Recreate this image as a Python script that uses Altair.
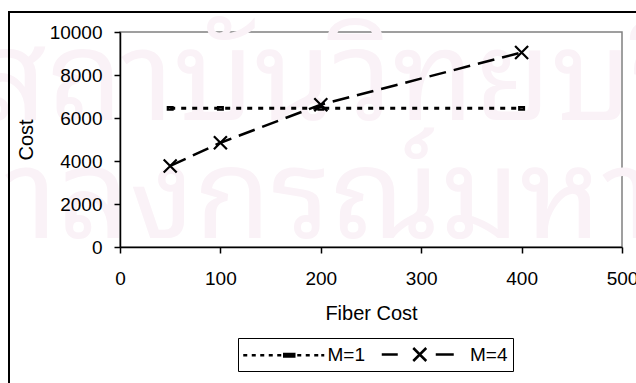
import altair as alt
import pandas as pd

# Series values
fiber_cost = [50, 100, 200, 400]
cost_m1 = [6450, 6450, 6450, 6450]
cost_m4 = [3770, 4850, 6620, 9050]
series = ["M=1", "M=4"]

# Axis ticks
x_ticks = [0, 100, 200, 300, 400, 500]
y_ticks = [0, 2000, 4000, 6000, 8000, 10000]

# Background watermark lines
watermark = ["สถาบันวิทยบริการ", "จุฬาลงกรณ์มหาวิทยาลัย"]

df = pd.DataFrame({
    "fiber": fiber_cost * 2,
    "cost": cost_m1 + cost_m4,
    "series": [series[0]] * len(fiber_cost) + [series[1]] * len(fiber_cost),
})

FONT = "Liberation Sans"
THAI_FONT = "Laksaman, Kinnari, Norasi, 'Noto Sans Thai Looped', 'Noto Serif Thai', 'Noto Sans Thai', sans-serif"

# Legend symbol geometry (pixel units converted to the symbol's unit box)
LEG_SIZE = 400
U = (LEG_SIZE ** 0.5) / 2


def hseg(a, b, y=0.0):
    return f"M{a / U:.3f},{y / U:.3f}H{b / U:.3f}"


def rect(a, b, h):
    return f"M{a / U:.3f},{-h / U:.3f}H{b / U:.3f}V{h / U:.3f}H{a / U:.3f}Z"


def cross(cx, r):
    return (f"M{(cx - r) / U:.3f},{-r / U:.3f}L{(cx + r) / U:.3f},{r / U:.3f}"
            f"M{(cx - r) / U:.3f},{r / U:.3f}L{(cx + r) / U:.3f},{-r / U:.3f}")


dots = [(-46, -42), (-37.5, -33.5), (-29, -25), (-20.5, -16.5), (-12, -8),
        (8, 12), (16.5, 20.5), (25, 29), (32, 35)]
leg_m1 = "".join(hseg(a, b) for a, b in dots) + rect(-5, 5, 1.2)
leg_m4 = hseg(-50, -34) + cross(-12, 6.5) + hseg(4, 22)

# Plot markers
mark_m1 = "M-0.6,-0.3H0.6V0.3H-0.6Z"
mark_m4 = "M-1,-1L1,1M-1,1L1,-1"

x_enc = alt.X("fiber:Q", title="Fiber Cost",
              scale=alt.Scale(domain=[0, 500], nice=False),
              axis=alt.Axis(values=x_ticks, labelPadding=16, labelFlush=False,
                            titleY=66, titleBaseline="middle", zindex=2))
y_enc = alt.Y("cost:Q", title="Cost",
              scale=alt.Scale(domain=[0, 10000], nice=False),
              axis=alt.Axis(values=y_ticks, format="d", labelPadding=12,
                            labelFlush=False, titleX=-94, titleY=107.5,
                            titleAngle=-90, titleAlign="center",
                            titleBaseline="middle", zindex=2))

wm = pd.DataFrame({"t": watermark, "row": [0, 1]})
wm_layer = alt.Chart(wm).mark_text(
    font=THAI_FONT, fontSize=125, color="#faf2f7", align="left",
    baseline="alphabetic", clip=False,
).encode(
    text="t:N",
    x=alt.XValue(alt.ExprRef("datum.row == 0 ? -145 : -270")),
    y=alt.YValue(alt.ExprRef("datum.row == 0 ? 88 : 206")),
)

frame = alt.Chart(df).mark_rect(
    fill=None, stroke="black", strokeWidth=1.3, clip=False
).encode(
    x=alt.value(-111), x2=alt.value(540), y=alt.value(-20), y2=alt.value(380)
)

lines = alt.Chart(df).mark_line(color="black").encode(
    x=x_enc, y=y_enc,
    strokeDash=alt.StrokeDash("series:N", legend=None,
                              scale=alt.Scale(domain=series, range=[[5, 6], [17, 8]])),
    strokeWidth=alt.StrokeWidth("series:N", legend=None,
                                scale=alt.Scale(domain=series, range=[3, 2.5])),
)

points = alt.Chart(df).mark_point(
    filled=False, color="black", strokeWidth=2.2, opacity=1
).encode(
    x="fiber:Q", y="cost:Q",
    shape=alt.Shape("series:N", legend=None,
                    scale=alt.Scale(domain=series, range=[mark_m1, mark_m4])),
    size=alt.Size("series:N", legend=None,
                  scale=alt.Scale(domain=series, range=[64, 169])),
)

key = alt.Chart(df).transform_filter("false").mark_point(
    filled=False, color="black"
).encode(
    x="fiber:Q", y="cost:Q",
    shape=alt.Shape(
        "series:N",
        scale=alt.Scale(domain=series, range=[leg_m1, leg_m4]),
        legend=alt.Legend(
            title=None, orient="none", legendX=118, legendY=306,
            direction="horizontal", symbolSize=LEG_SIZE, symbolStrokeWidth=2.5,
            symbolStrokeColor="black", symbolFillColor="transparent",
            symbolOpacity=1, symbolOffset=34.75, labelFont=FONT,
            labelFontSize=19, labelColor="black", labelOffset=26.75,
            columnPadding=11.5, strokeColor="black", fillColor="white",
            padding=5,
        ),
    ),
)

chart = alt.layer(wm_layer, frame, lines, points, key).resolve_scale(
    shape="independent"
).properties(
    width=502, height=215,
    padding={"left": 120, "top": 32, "right": 14, "bottom": 136},
    autosize=alt.AutoSizeParams(type="none"),
    background="white",
).configure_view(
    stroke="#808080", strokeWidth=1.5
).configure_axis(
    grid=False, domainColor="black", domainWidth=1.5, tickColor="black",
    tickWidth=1.5, tickSize=6, labelFont=FONT, labelFontSize=19,
    labelColor="black", titleFont=FONT, titleFontSize=20,
    titleFontWeight="normal", titleColor="black",
)

chart.save("out.html", embed_options={"renderer": "svg", "actions": False})
